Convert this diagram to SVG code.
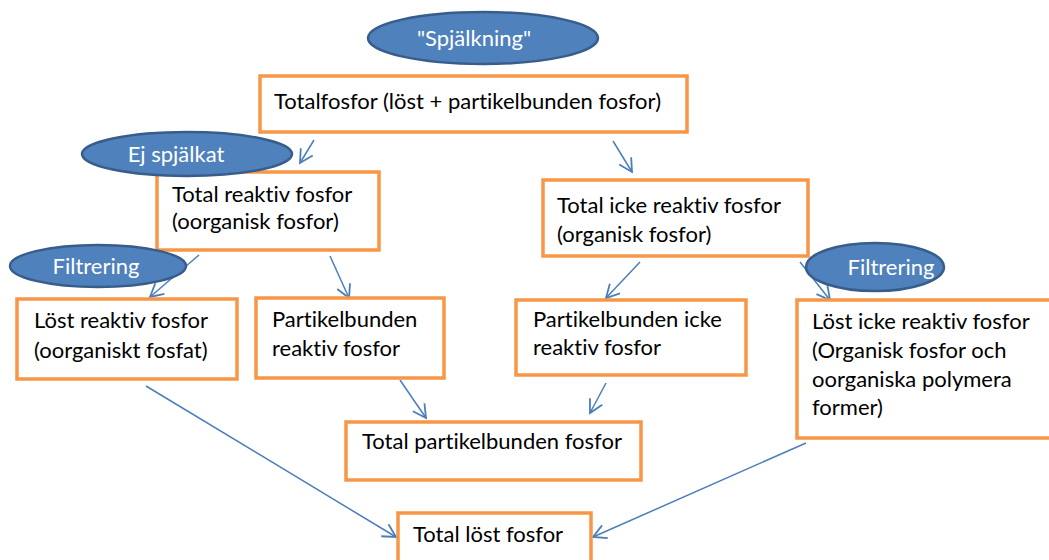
<svg xmlns="http://www.w3.org/2000/svg" width="1049" height="560" viewBox="0 0 1049 560">
<defs>
<marker id="arr" markerUnits="userSpaceOnUse" markerWidth="16" markerHeight="16" viewBox="0 0 16 16" refX="14" refY="8" orient="auto">
<path d="M1,1 L14,8 L1,15" fill="none" stroke="#4A7EBB" stroke-width="1.8"/>
</marker>
</defs>
<style>
.box{fill:#fff;stroke:#F79646;stroke-width:3.5}
.ell{fill:#4F81BD;stroke:#385D8A;stroke-width:2.5}
.t{font-family:Lato,"Open Sans","Liberation Sans",sans-serif;font-size:22px;fill:#000;font-variant-ligatures:none}
.w{font-family:Lato,"Open Sans","Liberation Sans",sans-serif;font-size:22px;fill:#fff;text-anchor:middle;font-variant-ligatures:none}
.c{stroke:#4A7EBB;stroke-width:1.5;fill:none;marker-end:url(#arr)}
</style>
<rect width="1049" height="560" fill="#fff"/>
<g id="connectors">
<line class="c" x1="314" y1="140" x2="300" y2="163"/>
<line class="c" x1="613" y1="141" x2="632" y2="172"/>
<line class="c" x1="199" y1="255" x2="150" y2="297"/>
<line class="c" x1="330" y1="256" x2="349" y2="298"/>
<line class="c" x1="640" y1="262" x2="606" y2="298"/>
<line class="c" x1="800" y1="262" x2="830" y2="300"/>
<line class="c" x1="400" y1="380" x2="426" y2="418"/>
<line class="c" x1="606" y1="383" x2="590" y2="413"/>
<line class="c" x1="146" y1="386" x2="396" y2="537"/>
<line class="c" x1="806" y1="443" x2="593" y2="537"/>
</g>
<g id="n-totalfosfor"><rect class="box" x="260" y="76" width="427" height="56"/><text class="t" x="274" y="109">Totalfosfor (löst + partikelbunden fosfor)</text></g>
<g id="n-total-reaktiv"><rect class="box" x="157" y="172" width="222" height="78"/><text class="t" x="172" y="202">Total reaktiv fosfor</text><text class="t" x="172" y="229">(oorganisk fosfor)</text></g>
<g id="n-total-icke"><rect class="box" x="543" y="180" width="265" height="76"/><text class="t" x="557" y="213">Total icke reaktiv fosfor</text><text class="t" x="557" y="242">(organisk fosfor)</text></g>
<g id="n-lost-reaktiv"><rect class="box" x="17" y="299" width="220" height="80"/><text class="t" x="34" y="328">Löst reaktiv fosfor</text><text class="t" x="34" y="358">(oorganiskt fosfat)</text></g>
<g id="n-part-reaktiv"><rect class="box" x="256" y="298" width="188" height="80"/><text class="t" x="272" y="327">Partikelbunden</text><text class="t" x="272" y="356">reaktiv fosfor</text></g>
<g id="n-part-icke"><rect class="box" x="516" y="300" width="230" height="75"/><text class="t" x="533" y="327">Partikelbunden icke</text><text class="t" x="533" y="355">reaktiv fosfor</text></g>
<g id="n-lost-icke"><rect class="box" x="797" y="300" width="260" height="138"/><text class="t" x="812" y="329">Löst icke reaktiv fosfor</text><text class="t" x="812" y="358">(Organisk fosfor och</text><text class="t" x="812" y="387">oorganiska polymera</text><text class="t" x="812" y="415">former)</text></g>
<g id="n-total-part"><rect class="box" x="346" y="422" width="295" height="58"/><text class="t" x="362" y="449">Total partikelbunden fosfor</text></g>
<g id="n-total-lost"><rect class="box" x="398" y="513" width="193" height="52"/><text class="t" x="413" y="542">Total löst fosfor</text></g>
<g id="e-spjalkning"><ellipse class="ell" cx="483" cy="38" rx="115" ry="26"/><text class="w" x="474" y="46">"Spjälkning"</text></g>
<g id="e-ej-spjalkat"><ellipse class="ell" cx="187" cy="154" rx="105" ry="22"/><text class="w" x="176" y="162">Ej spjälkat</text></g>
<g id="e-filtrering-l"><ellipse class="ell" cx="98" cy="266" rx="88" ry="21"/><text class="w" x="96" y="274">Filtrering</text></g>
<g id="e-filtrering-r"><ellipse class="ell" cx="875" cy="267" rx="69" ry="24"/><text class="w" x="891" y="275">Filtrering</text></g>
</svg>
